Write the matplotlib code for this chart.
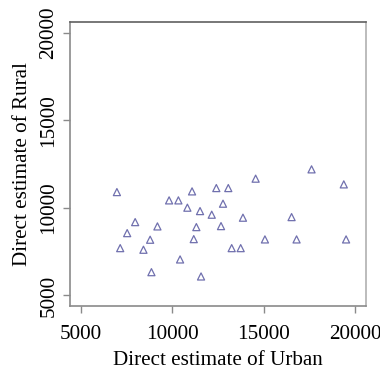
import matplotlib
matplotlib.use("Agg")
import matplotlib.pyplot as plt

urban = [6967, 7966, 9185, 7529, 8786, 7147, 8420, 8857, 14560, 11080,
         12408, 13063, 9824, 10332, 10824, 11517, 12774, 12157, 13866, 11315,
         12665, 11173, 13249, 13741, 10425, 11572, 17620, 19384, 16527, 15068,
         16800, 19510]
rural = [10898, 9185, 8940, 8557, 8180, 7701, 7609, 6330, 11664, 10938,
         11127, 11127, 10425, 10425, 10008, 9814, 10236, 9608, 9437, 8900,
         8957, 8215, 7701, 7701, 7056, 6085, 12195, 11338, 9471, 8198,
         8198, 8198]
xticks = [5000, 10000, 15000, 20000]
yticks = [5000, 10000, 15000, 20000]

plt.rcParams['font.family'] = ['Liberation Serif', 'DejaVu Serif']
fs = 15.2

fig = plt.figure(figsize=(3.8, 3.72), dpi=100)
ax = fig.add_axes([70/380, 1-306/372, 296/380, 284/372])
ax.scatter(urban, rural, marker='^', s=26, facecolors='none',
           edgecolors='#7070ae', linewidths=0.9)
ax.set_xlim(4400, 20600)
ax.set_ylim(4400, 20600)
ax.set_xticks(xticks)
ax.set_yticks(yticks)
ax.set_xticklabels([str(t) for t in xticks], fontsize=fs)
ax.set_yticklabels([str(t) for t in yticks], fontsize=fs, rotation=90, va='center')
ax.tick_params(axis='both', length=5, width=1, color='#8a8a8a')
ax.tick_params(axis='x', pad=8.5)
ax.tick_params(axis='y', pad=3.5)
ax.set_xlabel('Direct estimate of Urban', fontsize=fs, labelpad=5)
ax.set_ylabel('Direct estimate of Rural', fontsize=fs, labelpad=5)
for side, c in [('top', '#606060'), ('left', '#8a8a8a'), ('bottom', '#8a8a8a'), ('right', '#b0b0b0')]:
    ax.spines[side].set_color(c)
    ax.spines[side].set_linewidth(1.2)

fig.savefig('out.png', dpi=100)
